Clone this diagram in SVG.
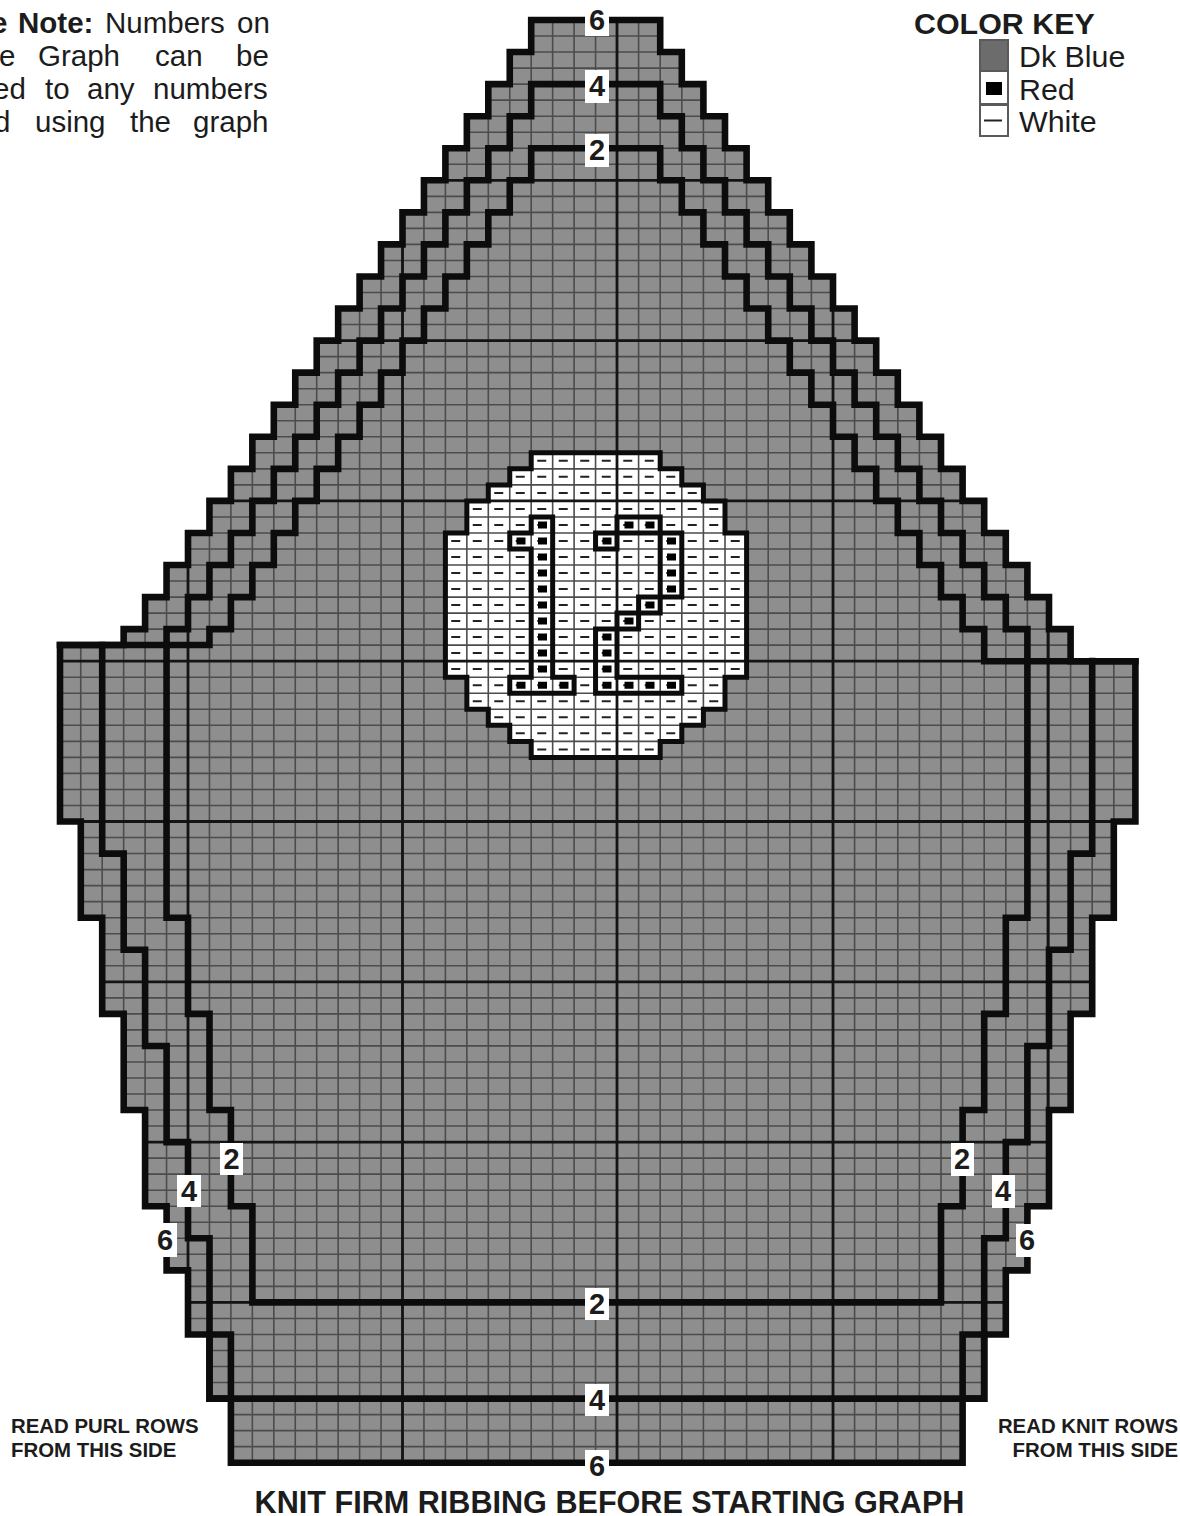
<svg xmlns="http://www.w3.org/2000/svg" width="1180" height="1516" viewBox="0 0 1180 1516">
<style>
text{font-family:"Liberation Sans",Arial,sans-serif;fill:#1c1c1c}
.b{font-weight:bold}
.n{font-size:29.5px}
.k{font-size:30.4px}
.s{font-size:20.4px;font-weight:bold}
.num{font-size:29px;font-weight:bold;text-anchor:middle}
.box{fill:#fff}
.thin{fill:none;stroke:#4c4c4c;stroke-width:1.6}
.heavy{fill:none;stroke:#141414;stroke-width:2.8}
.thick{fill:none;stroke:#0c0c0c;stroke-width:6.6;stroke-linejoin:miter;stroke-linecap:square}
.fig{fill:none;stroke:#0c0c0c;stroke-width:5;stroke-linejoin:miter}
.dash{fill:none;stroke:#222;stroke-width:2;stroke-dasharray:9 12.5}
.red{fill:none;stroke:#000;stroke-width:7}
</style>
<defs>
<path id="outer-shape" d="M531.2 20
v32.06h-21.45v32.06h-21.45v32.06h-21.45v32.06h-21.45v32.06h-21.45
v32.06h-21.45v32.06h-21.45v32.06h-21.45v32.06h-21.45v32.06h-21.45
v32.06h-21.45v32.06h-21.45v32.06h-21.45v32.06h-21.45v32.06h-21.45
v32.06h-21.45v32.06h-21.45v32.06h-21.45v32.06h-21.45
V645H60V821.5H80.8V917.7H102.2V1013.9H123.7V1110H145.1V1206.2H166.6V1270.4H188V1334.5H230.9V1462.7H962.6V1334.5H1005.8V1270.4H1027.4V1206.2H1049V1110H1070.6V1013.9H1092.2V917.7H1113.8V821.5H1135.4V661.2H1070.6V629.14
h-21.6v-32.06h-21.6v-32.06h-21.6v-32.06h-21.6v-32.06h-21.6v-32.06
h-21.6v-32.06h-21.6v-32.06h-21.6v-32.06h-21.6v-32.06h-21.6v-32.06
h-21.6v-32.06h-21.6v-32.06h-21.6v-32.06h-21.6v-32.06h-21.6v-32.06
h-21.6v-32.06h-21.6v-32.06h-21.6v-32.06h-21.6v-32.06Z
M209.5 1334.5H230.9V1398.6H209.5ZM962.6 1334.5H984.2V1398.6H962.6Z"/>
<clipPath id="shape"><use href="#outer-shape"/></clipPath>
</defs>

<g id="chart-fill">
<use href="#outer-shape" fill="#8e8e8e"/>
<path id="motif-field" fill="#fff" d="M531.2 452.8H660.2V468.8H681.8V484.9H703.4V500.9H725V533H746.6V677.2H725V709.3H703.4V725.3H681.8V741.4H660.2V757.4H531.2V741.4H509.75V725.3H488.3V709.3H466.85V677.2H445.4V533H466.85V500.9H488.3V484.9H509.75V468.8H531.2Z"/>
</g>

<g id="grid" clip-path="url(#shape)">
<path class="thin" d="M595.55 20V1463m-21.45-1443v1443m-21.45-1443v1443m-21.45-1443v1443m-21.45-1443v1443m-21.45-1443v1443m-21.45-1443v1443m-21.45-1443v1443m-21.45-1443v1443m-21.45-1443v1443m-21.45-1443v1443m-21.45-1443v1443m-21.45-1443v1443m-21.45-1443v1443m-21.45-1443v1443m-21.45-1443v1443m-21.45-1443v1443m-21.45-1443v1443m-21.45-1443v1443m-21.45-1443v1443m-21.45-1443v1443m-21.45-1443v1443m-21.45-1443v1443m-21.45-1443v1443m-21.45-1443v1443"/>
<path class="thin" d="M638.6 20V1463m21.6-1443v1443m21.6-1443v1443m21.6-1443v1443m21.6-1443v1443m21.6-1443v1443m21.6-1443v1443m21.6-1443v1443m21.6-1443v1443m21.6-1443v1443m21.6-1443v1443m21.6-1443v1443m21.6-1443v1443m21.6-1443v1443m21.6-1443v1443m21.6-1443v1443m21.6-1443v1443m21.6-1443v1443m21.6-1443v1443m21.6-1443v1443m21.6-1443v1443m21.6-1443v1443m21.6-1443v1443"/>
<path class="thin" d="M60 36.03h1076m-1076 16.03h1076m-1076 16.03h1076m-1076 16.03h1076m-1076 16.03h1076m-1076 16.03h1076m-1076 16.03h1076m-1076 16.03h1076m-1076 16.03h1076m-1076 16.03h1076m-1076 16.03h1076m-1076 16.03h1076m-1076 16.03h1076m-1076 16.03h1076m-1076 16.03h1076m-1076 16.03h1076m-1076 16.03h1076m-1076 16.03h1076m-1076 16.03h1076m-1076 16.03h1076m-1076 16.03h1076m-1076 16.03h1076m-1076 16.03h1076m-1076 16.03h1076m-1076 16.03h1076m-1076 16.03h1076m-1076 16.03h1076m-1076 16.03h1076m-1076 16.03h1076m-1076 16.03h1076m-1076 16.03h1076m-1076 16.03h1076m-1076 16.03h1076m-1076 16.03h1076m-1076 16.03h1076m-1076 16.03h1076m-1076 16.03h1076m-1076 16.03h1076m-1076 16.03h1076m-1076 16.03h1076m-1076 16.03h1076m-1076 16.03h1076m-1076 16.03h1076m-1076 16.03h1076m-1076 16.03h1076m-1076 16.03h1076m-1076 16.03h1076m-1076 16.03h1076m-1076 16.03h1076m-1076 16.03h1076m-1076 16.03h1076m-1076 16.03h1076m-1076 16.03h1076m-1076 16.03h1076m-1076 16.03h1076m-1076 16.03h1076m-1076 16.03h1076m-1076 16.03h1076m-1076 16.03h1076m-1076 16.03h1076m-1076 16.03h1076m-1076 16.03h1076m-1076 16.03h1076m-1076 16.03h1076m-1076 16.03h1076m-1076 16.03h1076m-1076 16.03h1076m-1076 16.03h1076m-1076 16.03h1076m-1076 16.03h1076m-1076 16.03h1076m-1076 16.03h1076m-1076 16.03h1076m-1076 16.03h1076m-1076 16.03h1076m-1076 16.03h1076m-1076 16.03h1076m-1076 16.03h1076m-1076 16.03h1076m-1076 16.03h1076m-1076 16.03h1076m-1076 16.03h1076m-1076 16.03h1076m-1076 16.03h1076m-1076 16.03h1076m-1076 16.03h1076m-1076 16.03h1076m-1076 16.03h1076m-1076 16.03h1076"/>
<path class="heavy" d="M188 20V1463M402.5 20V1463M617 20V1463M833 20V1463M1048 20V1463M60 180.3H1136M60 340.6H1136M60 500.9H1136M60 661.2H1136M60 821.5H1136M60 981.8H1136M60 1142.1H1136M60 1302.4H1136"/>
</g>

<g id="motif">
<g id="white-stitches">
<path class="dash" d="M537.25 460.8h116.5M515.75 476.8h159.5M494.25 492.9h202.5M472.75 508.9h245.5M472.75 524.9h245.5M451.25 541h288.5M451.25 557h288.5M451.25 573h288.5M451.25 589h288.5M451.25 605h288.5M451.25 621h288.5M451.25 637h288.5M451.25 653h288.5M451.25 669h288.5M472.75 685.2h245.5M472.75 701.3h245.5M494.25 717.3h202.5M515.75 733.3h159.5M537.25 749.4h116.5"/>
</g>
<g id="red-stitches">
<path class="red" d="M538 524.9h9M624.5 524.9h9M645.5 524.9h9M516.5 541h9M538 541h9M602.5 541h9M667 541h9M538 557h9M667 557h9M538 573h9M667 573h9M538 589h9M667 589h9M538 605h9M645.5 605h9M538 621h9M624.5 621h9M538 637h9M602.5 637h9M538 653h9M602.5 653h9M538 669h9M602.5 669h9M516.5 685.2h9M538 685.2h9M559.5 685.2h9M602.5 685.2h9M624.5 685.2h9M645.5 685.2h9M667 685.2h9"/>
</g>
<path id="motif-outline" class="fig" d="M531.2 452.8H660.2V468.8H681.8V484.9H703.4V500.9H725V533H746.6V677.2H725V709.3H703.4V725.3H681.8V741.4H660.2V757.4H531.2V741.4H509.75V725.3H488.3V709.3H466.85V677.2H445.4V533H466.85V500.9H488.3V484.9H509.75V468.8H531.2Z"/>
<path id="digit-1" class="fig" d="M531.2 517H552.65V677.2H574.1V693.3H509.75V677.2H531.2V549H509.75V533H531.2Z"/>
<path id="digit-2" class="fig" d="M595.55 533H617V517H660.2V533H681.8V597H660.2V613H638.6V629H617V677.2H681.8V693.3H595.55V629H617V613H638.6V597H660.2V533H617V549H595.55Z"/>
</g>

<g id="connectors">
<use id="line-outer" class="thick" href="#outer-shape"/>
<path id="line-upper-inner" class="thick" d="M60 645H209.45V629.14
h21.45v-32.06h21.45v-32.06h21.45v-32.06h21.45v-32.06h21.45v-32.06
h21.45v-32.06h21.45v-32.06h21.45v-32.06h21.45v-32.06h21.45v-32.06
h21.45v-32.06h21.45v-32.06h21.45v-32.06h21.45v-32.06h21.45v-32.06
H660.2
v32.06h21.6v32.06h21.6v32.06h21.6v32.06h21.6v32.06h21.6
v32.06h21.6v32.06h21.6v32.06h21.6v32.06h21.6v32.06h21.6
v32.06h21.6v32.06h21.6v32.06h21.6v32.06h21.6v32.06h21.6
V661.2H1135.4"/>
<path id="line-mid-upper" class="thick" d="M252.4 1302.4H941V1206.2H962.6V1110H984.2V1013.9H1005.8V917.7H1027.4V629.14
h-21.6v-32.06h-21.6v-32.06h-21.6v-32.06h-21.6v-32.06h-21.6v-32.06
h-21.6v-32.06h-21.6v-32.06h-21.6v-32.06h-21.6v-32.06h-21.6v-32.06
h-21.6v-32.06h-21.6v-32.06h-21.6v-32.06h-21.6v-32.06h-21.6v-32.06
h-21.6v-32.06h-21.6v-32.06
H531.2
v32.06h-21.45v32.06h-21.45v32.06h-21.45v32.06h-21.45v32.06h-21.45
v32.06h-21.45v32.06h-21.45v32.06h-21.45v32.06h-21.45v32.06h-21.45
v32.06h-21.45v32.06h-21.45v32.06h-21.45v32.06h-21.45v32.06h-21.45
v32.06h-21.45v32.06h-21.45
V917.7H188V1013.9H209.5V1110H230.9V1206.2H252.4Z"/>
<path id="line-mid-lower" class="thick" d="M102.2 645V853.6H123.7V949.7H145.1V1046H166.6V1142.1H188V1238.3H209.5V1398.6H984.2V1238.3H1005.8V1142.1H1027.4V1046H1049V949.7H1070.6V853.6H1092.2V661"/>
</g>

<g id="size-labels">
<g id="top-6"><rect class="box" x="585" y="4" width="24" height="32"/><text class="num" x="597" y="30">6</text></g>
<g id="top-4"><rect class="box" x="585" y="70" width="24" height="33"/><text class="num" x="597" y="96">4</text></g>
<g id="top-2"><rect class="box" x="585" y="134" width="24" height="33"/><text class="num" x="597" y="160">2</text></g>
<g id="left-2"><rect class="box" x="220" y="1143" width="23" height="32"/><text class="num" x="231.5" y="1169">2</text></g>
<g id="left-4"><rect class="box" x="177" y="1175" width="24" height="32"/><text class="num" x="189" y="1201">4</text></g>
<g id="left-6"><rect class="box" x="155" y="1223" width="22" height="34"/><text class="num" x="165" y="1250">6</text></g>
<g id="right-2"><rect class="box" x="951" y="1143" width="23" height="33"/><text class="num" x="962" y="1169">2</text></g>
<g id="right-4"><rect class="box" x="992" y="1175" width="23" height="33"/><text class="num" x="1003" y="1201">4</text></g>
<g id="right-6"><rect class="box" x="1016" y="1224" width="22" height="33"/><text class="num" x="1027" y="1250">6</text></g>
<g id="bottom-2"><rect class="box" x="585" y="1288" width="24" height="32"/><text class="num" x="597" y="1314">2</text></g>
<g id="bottom-4"><rect class="box" x="585" y="1384" width="24" height="32"/><text class="num" x="597" y="1410">4</text></g>
<g id="bottom-6"><rect class="box" x="585" y="1450" width="24" height="32"/><text class="num" x="597" y="1476">6</text></g>
</g>

<g id="note">
<text class="n" y="33"><tspan class="b" x="-9">e</tspan><tspan class="b" x="18">Note:</tspan><tspan x="105">Numbers</tspan><tspan x="237">on</tspan></text>
<text class="n" y="66"><tspan x="-1">e</tspan><tspan x="38">Graph</tspan><tspan x="155">can</tspan><tspan x="236">be</tspan></text>
<text class="n" y="99"><tspan x="-7">ed</tspan><tspan x="45">to</tspan><tspan x="87">any</tspan><tspan x="153">numbers</tspan></text>
<text class="n" y="132"><tspan x="-6">d</tspan><tspan x="35">using</tspan><tspan x="130">the</tspan><tspan x="193">graph</tspan></text>
</g>

<g id="color-key">
<text class="b k" x="914" y="34">COLOR KEY</text>
<g id="key-blue"><rect x="980" y="40" width="28" height="31" fill="#6c6c6c" stroke="#5a5a5a" stroke-width="2"/><text class="k" x="1019" y="67">Dk Blue</text></g>
<g id="key-red"><rect x="980" y="71" width="28" height="33" fill="#fff" stroke="#5a5a5a" stroke-width="2"/><rect x="986" y="82" width="16" height="13" fill="#000"/><text class="k" x="1019" y="100">Red</text></g>
<g id="key-white"><rect x="980" y="105" width="28" height="31" fill="#fff" stroke="#5a5a5a" stroke-width="2"/><path d="M984 120.5h18" stroke="#222" stroke-width="2" fill="none"/><text class="k" x="1019" y="132">White</text></g>
</g>

<g id="captions">
<text class="s" x="11" y="1433">READ PURL ROWS</text>
<text class="s" x="11" y="1457">FROM THIS SIDE</text>
<text class="s" x="1178" y="1433" text-anchor="end">READ KNIT ROWS</text>
<text class="s" x="1178" y="1457" text-anchor="end">FROM THIS SIDE</text>
<text class="b" x="609.5" y="1513" text-anchor="middle" font-size="30.6">KNIT FIRM RIBBING BEFORE STARTING GRAPH</text>
</g>
</svg>
